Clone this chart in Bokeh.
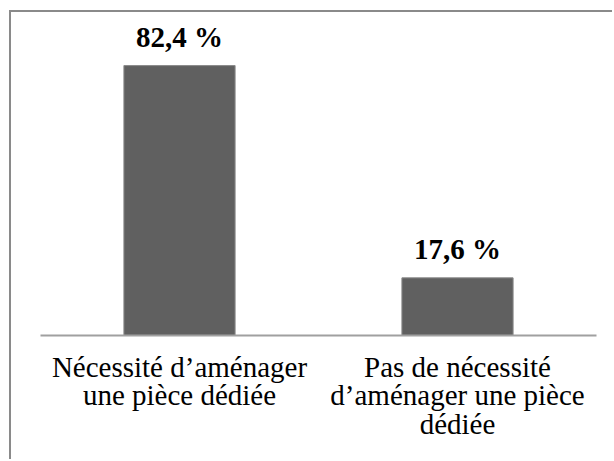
from bokeh.plotting import figure
from bokeh.models import FactorRange, Range1d, ColumnDataSource
from bokeh.core.properties import value
from bokeh.embed import file_html
from bokeh.resources import INLINE

categories = ["Nécessité d’aménager\nune pièce dédiée",
              "Pas de nécessité\nd’aménager une pièce\ndédiée"]
percent_values = [82.4, 17.6]
value_labels = ["82,4 %", "17,6 %"]

src = ColumnDataSource(dict(cat=categories, val=percent_values, lab=value_labels))

p = figure(width=603, height=449, output_backend="svg", toolbar_location=None,
           x_range=FactorRange(*categories), y_range=Range1d(0, 98.6),
           y_axis_location=None, min_border_left=29, min_border_right=18,
           min_border_top=0, min_border_bottom=126)
p.outline_line_color = None
p.xgrid.visible = False
p.ygrid.visible = False
p.background_fill_color = "white"
p.border_fill_color = "white"
p.styles = {"border-top": "2px solid #8a8a8a", "border-left": "2px solid #8a8a8a",
            "margin-left": "9px", "margin-top": "10px"}

p.vbar(x="cat", top="val", width=0.4, source=src,
       fill_color="#606060", line_color="#8a8a8a", line_width=1)

p.text(x="cat", y="val", text="lab", source=src, y_offset=-29,
       text_align="center", text_baseline="alphabetic",
       text_font=value("Liberation Serif"), text_font_style="bold",
       text_font_size="29px", text_color="black")

ax = p.xaxis[0]
ax.axis_line_color = "#a0a0a0"
ax.axis_line_width = 2
ax.major_tick_line_color = None
ax.minor_tick_line_color = None
ax.major_tick_out = 0
ax.major_tick_in = 0
ax.major_label_standoff = 15
ax.major_label_text_font = "Liberation Serif"
ax.major_label_text_font_size = "29px"
ax.major_label_text_color = "black"
ax.major_label_text_line_height = 0.9
ax.major_label_orientation = "horizontal"

open("out.html", "w").write(file_html(p, INLINE))
